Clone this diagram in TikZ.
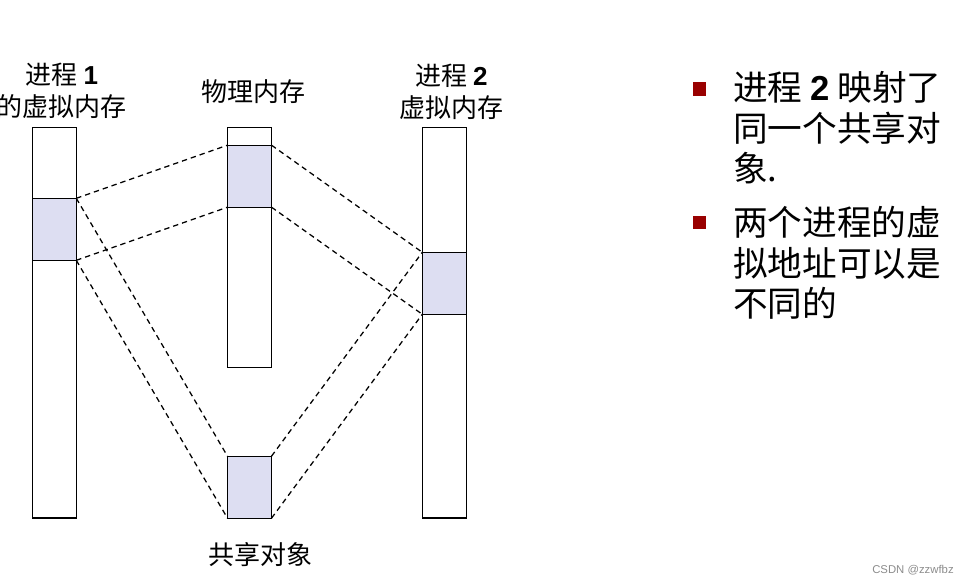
\documentclass[tikz,border=0pt]{standalone}
\usepackage{fontspec}
\setmainfont{Noto Sans CJK SC}
\newfontfamily\lat{Liberation Sans}
\usetikzlibrary{positioning}
\definecolor{shade}{RGB}{221,222,242}
\definecolor{bulred}{RGB}{153,0,0}
\tikzset{
  bar/.style={draw=black, line width=1pt, minimum width=33pt, inner sep=0pt, outer sep=0pt},
  seg/.style={bar, fill=shade, minimum height=46.5pt},
  lbl/.style={font=\fontsize{19.5}{24}\selectfont, align=center, inner sep=0pt},
  map/.style={dash pattern=on 4pt off 3pt, line width=0.95pt},
  bul/.style={fill=bulred, minimum size=10pt, inner sep=0pt},
  note/.style={font=\fontsize{26}{30.5}\selectfont, align=left, inner sep=0pt, anchor=north west},
}
\begin{document}
\begin{tikzpicture}[x=0.75pt, y=-0.75pt]
\useasboundingbox (0,0) rectangle (967,584);

% memory columns
\node[bar, minimum height=293pt] (v1) at (54.3,322.7) {};
\node[seg] (v1s) at (54.3,229.3) {};
\node[bar, minimum height=180pt] (pm) at (249.5,247.2) {};
\node[seg] (pms) at (249.5,176.2) {};
\node[seg] (so) at (249.5,487.2) {};
\node[bar, minimum height=293pt] (v2) at (444.3,322.7) {};
\node[seg] (v2s) at (444.3,283.3) {};

% labels
\node[lbl] (l1) at (62,91) {进程 {\lat\bfseries 1}\\的虚拟内存};
\node[lbl] (lp) at (253.5,92) {物理内存};
\node[lbl] (l2) at (451.5,92) {进程 {\lat\bfseries 2}\\虚拟内存};
\node[lbl] (ls) at (260.5,555) {共享对象};

% mappings
\draw[map] (v1s.north east) -- (pms.north west);
\draw[map] (v1s.south east) -- (pms.south west);
\draw[map] (pms.north east) -- (v2s.north west);
\draw[map] (pms.south east) -- (v2s.south west);
\draw[map] (v1s.north east) -- (so.north west);
\draw[map] (v1s.south east) -- (so.south west);
\draw[map] (so.north east) -- (v2s.north west);
\draw[map] (so.south east) -- (v2s.south west);

% notes
\node[bul] (b1) at (699.7,89) {};
\node[note] (n1) at (733,71) {进程 {\lat\bfseries 2} 映射了\\同一个共享对\\象.};
\node[bul] (b2) at (699.7,222.5) {};
\node[note] (n2) at (733,206) {两个进程的虚\\拟地址可以是\\不同的};

\node[font=\lat\fontsize{8.5}{10}\selectfont, text=black!45, inner sep=0pt] (wm) at (913,570) {CSDN @zzwfbz};
\end{tikzpicture}
\end{document}
